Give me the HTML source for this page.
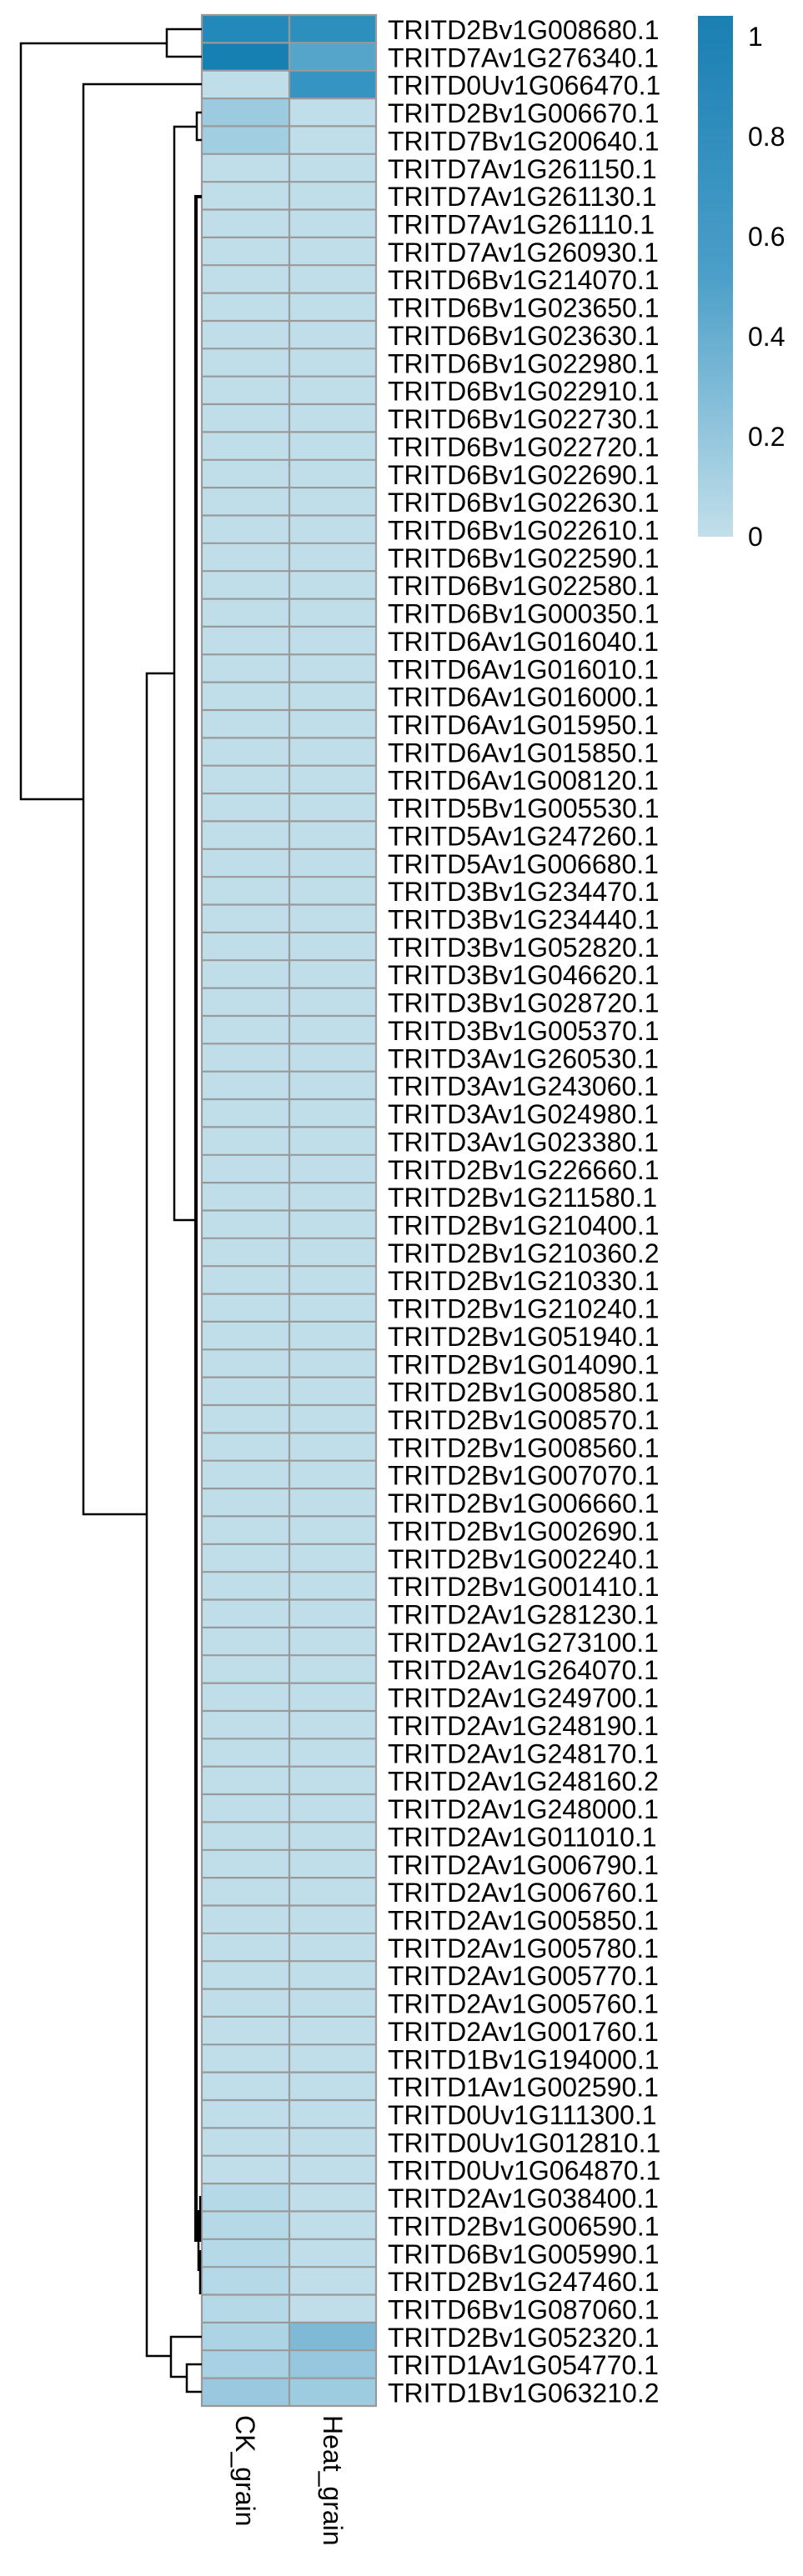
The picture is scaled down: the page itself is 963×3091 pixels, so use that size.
<!DOCTYPE html>
<html><head><meta charset="utf-8"><style>
html,body{margin:0;padding:0;background:#fff;}
svg{display:block;}
text{font-family:"Liberation Sans",sans-serif;font-size:32px;fill:#000;}
</style></head><body>
<svg width="963" height="3091" viewBox="0 0 963 3091" xmlns="http://www.w3.org/2000/svg">
<defs><linearGradient id="lg" x1="0" y1="0" x2="0" y2="1">
<stop offset="0" stop-color="#1a7fb3"/><stop offset="0.5" stop-color="#4b9fc8"/><stop offset="1" stop-color="#c2dfea"/></linearGradient></defs>
<rect x="242" y="18" width="209" height="2869" fill="#bfdeea"/>
<rect x="242" y="18" width="105" height="33.4" fill="#2389bb"/>
<rect x="347" y="18" width="104" height="33.4" fill="#2d8fbe"/>
<rect x="242" y="51.4" width="105" height="33.4" fill="#1780b3"/>
<rect x="347" y="51.4" width="104" height="33.4" fill="#55a5cb"/>
<rect x="347" y="84.7" width="104" height="33.4" fill="#3594c2"/>
<rect x="242" y="118.1" width="105" height="33.4" fill="#9ccbe0"/>
<rect x="242" y="151.4" width="105" height="33.4" fill="#a2cee2"/>
<rect x="242" y="2620" width="105" height="167" fill="#b6d9e8"/>
<rect x="242" y="2787" width="105" height="33.4" fill="#acd4e5"/>
<rect x="347" y="2787" width="104" height="33.4" fill="#80b9d6"/>
<rect x="242" y="2820" width="105" height="33.4" fill="#a9d1e4"/>
<rect x="347" y="2820" width="104" height="33.4" fill="#97c7de"/>
<rect x="242" y="2853.5" width="105" height="33.4" fill="#99c8df"/>
<rect x="347" y="2853.5" width="104" height="33.4" fill="#9dcbe0"/>
<g id="grid" stroke="#999" stroke-width="2.2">
<line x1="242" y1="18" x2="242" y2="2887"/><line x1="347" y1="18" x2="347" y2="2887"/><line x1="451" y1="18" x2="451" y2="2887"/>
</g>
<path id="hl" stroke="#999" stroke-width="2.2" fill="none" d="M241,18H452M241,51.4H452M241,84.7H452M241,118.1H452M241,151.4H452M241,184.8H452M241,218.2H452M241,251.5H452M241,284.9H452M241,318.2H452M241,351.6H452M241,385H452M241,418.3H452M241,451.7H452M241,485H452M241,518.4H452M241,551.8H452M241,585.1H452M241,618.5H452M241,651.8H452M241,685.2H452M241,718.6H452M241,751.9H452M241,785.3H452M241,818.6H452M241,852H452M241,885.4H452M241,918.7H452M241,952.1H452M241,985.4H452M241,1018.8H452M241,1052.2H452M241,1085.5H452M241,1118.9H452M241,1152.2H452M241,1185.6H452M241,1219H452M241,1252.3H452M241,1285.7H452M241,1319H452M241,1352.4H452M241,1385.8H452M241,1419.1H452M241,1452.5H452M241,1485.8H452M241,1519.2H452M241,1552.6H452M241,1585.9H452M241,1619.3H452M241,1652.6H452M241,1686H452M241,1719.4H452M241,1752.7H452M241,1786.1H452M241,1819.4H452M241,1852.8H452M241,1886.2H452M241,1919.5H452M241,1952.9H452M241,1986.2H452M241,2019.6H452M241,2053H452M241,2086.3H452M241,2119.7H452M241,2153H452M241,2186.4H452M241,2219.8H452M241,2253.1H452M241,2286.5H452M241,2319.8H452M241,2353.2H452M241,2386.6H452M241,2419.9H452M241,2453.3H452M241,2486.6H452M241,2520H452M241,2553.4H452M241,2586.7H452M241,2620.1H452M241,2653.4H452M241,2686.8H452M241,2720.2H452M241,2753.5H452M241,2786.9H452M241,2820.2H452M241,2853.6H452M241,2887H452"/>
<g stroke="#000" stroke-width="2.5" fill="none">
<path d="M242,35H200V68H242"/>
<path d="M200,52H25V959H100"/>
<path d="M242,101H100V1817H176"/>
<path d="M242,135H236V168H242"/>
<path d="M236,152H209V1464H235"/>
<path d="M209,808H176V2827H205"/>
<path d="M242,2804H205V2852H224"/>
<path d="M242,2837H224V2870H242"/>
<path d="M242,236H235V2690" stroke-width="4"/>
<path d="M240,2635V2690M238,2652V2725M240,2700V2753"/>
</g>
<rect x="837" y="19" width="42" height="625" fill="url(#lg)"/>
<text x="897" y="55">1</text>
<text x="897" y="175">0.8</text>
<text x="897" y="295">0.6</text>
<text x="897" y="415">0.4</text>
<text x="897" y="535">0.2</text>
<text x="897" y="655">0</text>
<text transform="translate(283,2898) rotate(90)">CK_grain</text>
<text transform="translate(388,2898) rotate(90)">Heat_grain</text>
<g>
<text x="465" y="47">TRITD2Bv1G008680.1</text>
<text x="465" y="80.4">TRITD7Av1G276340.1</text>
<text x="465" y="113.7">TRITD0Uv1G066470.1</text>
<text x="465" y="147.1">TRITD2Bv1G006670.1</text>
<text x="465" y="180.4">TRITD7Bv1G200640.1</text>
<text x="465" y="213.8">TRITD7Av1G261150.1</text>
<text x="465" y="247.2">TRITD7Av1G261130.1</text>
<text x="465" y="280.5">TRITD7Av1G261110.1</text>
<text x="465" y="313.9">TRITD7Av1G260930.1</text>
<text x="465" y="347.2">TRITD6Bv1G214070.1</text>
<text x="465" y="380.6">TRITD6Bv1G023650.1</text>
<text x="465" y="414">TRITD6Bv1G023630.1</text>
<text x="465" y="447.3">TRITD6Bv1G022980.1</text>
<text x="465" y="480.7">TRITD6Bv1G022910.1</text>
<text x="465" y="514">TRITD6Bv1G022730.1</text>
<text x="465" y="547.4">TRITD6Bv1G022720.1</text>
<text x="465" y="580.8">TRITD6Bv1G022690.1</text>
<text x="465" y="614.1">TRITD6Bv1G022630.1</text>
<text x="465" y="647.5">TRITD6Bv1G022610.1</text>
<text x="465" y="680.8">TRITD6Bv1G022590.1</text>
<text x="465" y="714.2">TRITD6Bv1G022580.1</text>
<text x="465" y="747.6">TRITD6Bv1G000350.1</text>
<text x="465" y="780.9">TRITD6Av1G016040.1</text>
<text x="465" y="814.3">TRITD6Av1G016010.1</text>
<text x="465" y="847.6">TRITD6Av1G016000.1</text>
<text x="465" y="881">TRITD6Av1G015950.1</text>
<text x="465" y="914.4">TRITD6Av1G015850.1</text>
<text x="465" y="947.7">TRITD6Av1G008120.1</text>
<text x="465" y="981.1">TRITD5Bv1G005530.1</text>
<text x="465" y="1014.4">TRITD5Av1G247260.1</text>
<text x="465" y="1047.8">TRITD5Av1G006680.1</text>
<text x="465" y="1081.2">TRITD3Bv1G234470.1</text>
<text x="465" y="1114.5">TRITD3Bv1G234440.1</text>
<text x="465" y="1147.9">TRITD3Bv1G052820.1</text>
<text x="465" y="1181.2">TRITD3Bv1G046620.1</text>
<text x="465" y="1214.6">TRITD3Bv1G028720.1</text>
<text x="465" y="1248">TRITD3Bv1G005370.1</text>
<text x="465" y="1281.3">TRITD3Av1G260530.1</text>
<text x="465" y="1314.7">TRITD3Av1G243060.1</text>
<text x="465" y="1348">TRITD3Av1G024980.1</text>
<text x="465" y="1381.4">TRITD3Av1G023380.1</text>
<text x="465" y="1414.8">TRITD2Bv1G226660.1</text>
<text x="465" y="1448.1">TRITD2Bv1G211580.1</text>
<text x="465" y="1481.5">TRITD2Bv1G210400.1</text>
<text x="465" y="1514.8">TRITD2Bv1G210360.2</text>
<text x="465" y="1548.2">TRITD2Bv1G210330.1</text>
<text x="465" y="1581.6">TRITD2Bv1G210240.1</text>
<text x="465" y="1614.9">TRITD2Bv1G051940.1</text>
<text x="465" y="1648.3">TRITD2Bv1G014090.1</text>
<text x="465" y="1681.6">TRITD2Bv1G008580.1</text>
<text x="465" y="1715">TRITD2Bv1G008570.1</text>
<text x="465" y="1748.4">TRITD2Bv1G008560.1</text>
<text x="465" y="1781.7">TRITD2Bv1G007070.1</text>
<text x="465" y="1815.1">TRITD2Bv1G006660.1</text>
<text x="465" y="1848.4">TRITD2Bv1G002690.1</text>
<text x="465" y="1881.8">TRITD2Bv1G002240.1</text>
<text x="465" y="1915.2">TRITD2Bv1G001410.1</text>
<text x="465" y="1948.5">TRITD2Av1G281230.1</text>
<text x="465" y="1981.9">TRITD2Av1G273100.1</text>
<text x="465" y="2015.2">TRITD2Av1G264070.1</text>
<text x="465" y="2048.6">TRITD2Av1G249700.1</text>
<text x="465" y="2082">TRITD2Av1G248190.1</text>
<text x="465" y="2115.3">TRITD2Av1G248170.1</text>
<text x="465" y="2148.7">TRITD2Av1G248160.2</text>
<text x="465" y="2182">TRITD2Av1G248000.1</text>
<text x="465" y="2215.4">TRITD2Av1G011010.1</text>
<text x="465" y="2248.8">TRITD2Av1G006790.1</text>
<text x="465" y="2282.1">TRITD2Av1G006760.1</text>
<text x="465" y="2315.5">TRITD2Av1G005850.1</text>
<text x="465" y="2348.8">TRITD2Av1G005780.1</text>
<text x="465" y="2382.2">TRITD2Av1G005770.1</text>
<text x="465" y="2415.6">TRITD2Av1G005760.1</text>
<text x="465" y="2448.9">TRITD2Av1G001760.1</text>
<text x="465" y="2482.3">TRITD1Bv1G194000.1</text>
<text x="465" y="2515.6">TRITD1Av1G002590.1</text>
<text x="465" y="2549">TRITD0Uv1G111300.1</text>
<text x="465" y="2582.4">TRITD0Uv1G012810.1</text>
<text x="465" y="2615.7">TRITD0Uv1G064870.1</text>
<text x="465" y="2649.1">TRITD2Av1G038400.1</text>
<text x="465" y="2682.4">TRITD2Bv1G006590.1</text>
<text x="465" y="2715.8">TRITD6Bv1G005990.1</text>
<text x="465" y="2749.2">TRITD2Bv1G247460.1</text>
<text x="465" y="2782.5">TRITD6Bv1G087060.1</text>
<text x="465" y="2815.9">TRITD2Bv1G052320.1</text>
<text x="465" y="2849.2">TRITD1Av1G054770.1</text>
<text x="465" y="2882.6">TRITD1Bv1G063210.2</text>
</g>
</svg>
</body></html>
